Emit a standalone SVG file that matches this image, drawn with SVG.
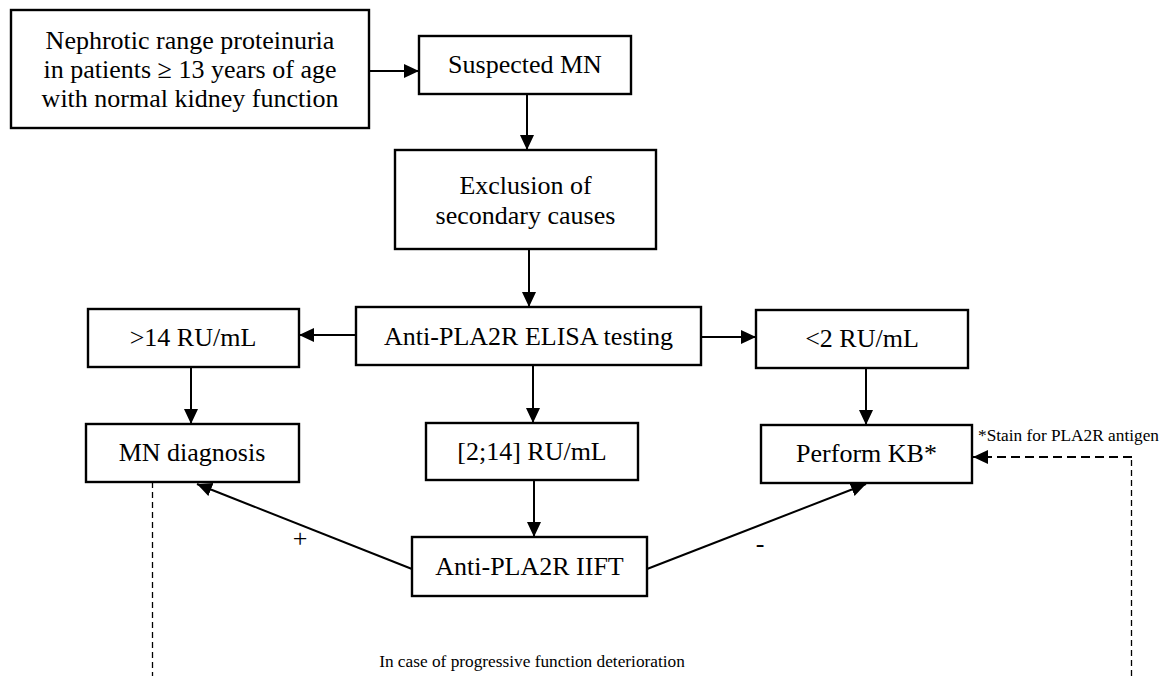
<svg xmlns="http://www.w3.org/2000/svg" width="1164" height="676" viewBox="0 0 1164 676" font-family="'Liberation Serif', 'Times New Roman', serif">
<style>
.box{fill:#fff;stroke:#000;stroke-width:2.4}
.lbl{font-family:"Liberation Serif",serif;font-size:26px;fill:#000;text-anchor:middle}
.note{font-family:"Liberation Serif",serif;font-size:17.3px;fill:#000}
.con{fill:none;stroke:#000;stroke-width:2}
.d1{fill:none;stroke:#000;stroke-width:1.3;stroke-dasharray:6 4}
.d2{fill:none;stroke:#000;stroke-width:2;stroke-dasharray:9 5}
</style>
<defs>
<marker id="ah" markerUnits="userSpaceOnUse" markerWidth="16" markerHeight="15" refX="15" refY="7" orient="auto">
<path d="M0,0 L15,7 L0,14 Z" fill="#000"/>
</marker>
</defs>
<rect width="1164" height="676" fill="#fff"/>
<g id="connectors">
<line class="con" x1="369" y1="71" x2="419" y2="71" marker-end="url(#ah)"/>
<line class="con" x1="527" y1="94" x2="527" y2="150" marker-end="url(#ah)"/>
<line class="con" x1="529" y1="249" x2="529" y2="307" marker-end="url(#ah)"/>
<line class="con" x1="356" y1="335" x2="299" y2="335" marker-end="url(#ah)"/>
<line class="con" x1="701" y1="337" x2="756" y2="337" marker-end="url(#ah)"/>
<line class="con" x1="191" y1="367" x2="191" y2="424" marker-end="url(#ah)"/>
<line class="con" x1="866" y1="368" x2="866" y2="425" marker-end="url(#ah)"/>
<line class="con" x1="533" y1="365" x2="533" y2="423" marker-end="url(#ah)"/>
<line class="con" x1="534" y1="480" x2="534" y2="537" marker-end="url(#ah)"/>
<line class="con" x1="412" y1="569" x2="197" y2="484" marker-end="url(#ah)"/>
<line class="con" x1="647" y1="569" x2="866" y2="484" marker-end="url(#ah)"/>
<line class="d1" x1="152.5" y1="482" x2="152.5" y2="676"/>
<line class="d1" x1="1131.5" y1="676" x2="1131.5" y2="457"/>
<line class="d2" x1="1132" y1="457" x2="973" y2="457" marker-end="url(#ah)"/>
<text class="lbl" x="300" y="547" font-size="24">+</text>
<text class="lbl" x="760" y="552" font-size="24">-</text>
<text class="note" x="532" y="667" text-anchor="middle">In case of progressive function deterioration</text>
<text class="note" x="978" y="441">*Stain for PLA2R antigen</text>
</g>
<g id="n1">
<rect class="box" x="11" y="10" width="358" height="118"/>
<text class="lbl" x="190" y="49">Nephrotic range proteinuria</text>
<text class="lbl" x="190" y="78">in patients ≥ 13 years of age</text>
<text class="lbl" x="190" y="107">with normal kidney function</text>
</g>
<g id="n2">
<rect class="box" x="419" y="36" width="212" height="58"/>
<text class="lbl" x="525" y="73">Suspected MN</text>
</g>
<g id="n3">
<rect class="box" x="395" y="150" width="261" height="99"/>
<text class="lbl" x="525.5" y="194">Exclusion of</text>
<text class="lbl" x="525.5" y="224">secondary causes</text>
</g>
<g id="n4">
<rect class="box" x="356" y="307" width="345" height="58"/>
<text class="lbl" x="528.5" y="345">Anti-PLA2R ELISA testing</text>
</g>
<g id="n5">
<rect class="box" x="88" y="309" width="211" height="58"/>
<text class="lbl" x="193" y="346">&gt;14 RU/mL</text>
</g>
<g id="n6">
<rect class="box" x="756" y="310" width="212" height="58"/>
<text class="lbl" x="862" y="347">&lt;2 RU/mL</text>
</g>
<g id="n7">
<rect class="box" x="86" y="424" width="213" height="58"/>
<text class="lbl" x="192" y="461">MN diagnosis</text>
</g>
<g id="n8">
<rect class="box" x="426" y="423" width="212" height="57"/>
<text class="lbl" x="532" y="460">[2;14] RU/mL</text>
</g>
<g id="n9">
<rect class="box" x="761" y="425" width="211" height="58"/>
<text class="lbl" x="866.5" y="462">Perform KB*</text>
</g>
<g id="n10">
<rect class="box" x="412" y="537" width="235" height="59"/>
<text class="lbl" x="529.5" y="575">Anti-PLA2R IIFT</text>
</g>
</svg>
